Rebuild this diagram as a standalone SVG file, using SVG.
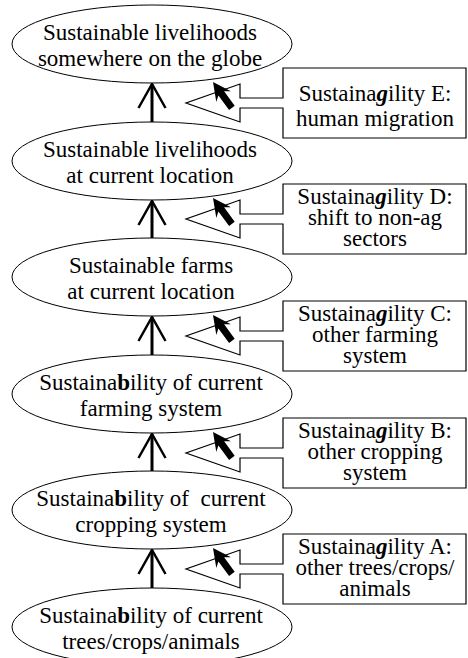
<svg xmlns="http://www.w3.org/2000/svg" width="468" height="658" viewBox="0 0 468 658">
<style>
text{font-family:'Liberation Serif','Times New Roman',serif;font-size:23px;fill:#000;text-anchor:middle}
.el{fill:#fff;stroke:#000;stroke-width:1}
.co{fill:#fff;stroke:#000;stroke-width:1.2}
.stem{stroke:#000;stroke-width:3;fill:none}
.vh{stroke:#000;stroke-width:2.5;fill:none;stroke-linecap:butt;stroke-linejoin:miter}
.cur{fill:#000;stroke:none}
.b{font-weight:bold}
.bi{font-weight:bold;font-style:italic}
</style>
<defs>
<path id="cursor" d="M0,0 L3.3,19.9 L5.4,13.4 L16.1,28 L21.7,23.8 L11.1,9.2 L17.9,9.3 Z"/>
<path id="vhead" d="M-13.5,24 L0,0 L13.5,24"/>
</defs>
<rect width="468" height="658" fill="#fff"/>

<g id="connectors">
<line class="stem" x1="152" y1="84" x2="152" y2="122"/>
<use href="#vhead" class="vh" x="152" y="84"/>
<line class="stem" x1="152" y1="201" x2="152" y2="238"/>
<use href="#vhead" class="vh" x="152" y="201"/>
<line class="stem" x1="152" y1="317" x2="152" y2="355"/>
<use href="#vhead" class="vh" x="152" y="317"/>
<line class="stem" x1="152" y1="434" x2="152" y2="471"/>
<use href="#vhead" class="vh" x="152" y="434"/>
<line class="stem" x1="152" y1="550" x2="152" y2="588"/>
<use href="#vhead" class="vh" x="152" y="550"/>
</g>

<g id="n1"><ellipse class="el" cx="152" cy="44" rx="140" ry="39"/>
<text x="150" y="40">Sustainable livelihoods</text><text x="150" y="66">somewhere on the globe</text></g>
<g id="n2"><ellipse class="el" cx="152" cy="161" rx="140" ry="39"/>
<text x="150" y="157">Sustainable livelihoods</text><text x="150" y="183">at current location</text></g>
<g id="n3"><ellipse class="el" cx="152" cy="277" rx="140" ry="39"/>
<text x="151" y="273">Sustainable farms</text><text x="151" y="299">at current location</text></g>
<g id="n4"><ellipse class="el" cx="152" cy="394" rx="140" ry="39"/>
<text x="151" y="390">Sustaina<tspan class="b">b</tspan>ility of current</text><text x="151" y="416">farming system</text></g>
<g id="n5"><ellipse class="el" cx="152" cy="510" rx="140" ry="39"/>
<text x="151" y="506">Sustaina<tspan class="b">b</tspan>ility of&#160; current</text><text x="151" y="532">cropping system</text></g>
<g id="n6"><ellipse class="el" cx="152" cy="627" rx="140" ry="39"/>
<text x="151" y="623">Sustaina<tspan class="b">b</tspan>ility of current</text><text x="151" y="649">trees/crops/animals</text></g>

<g id="cE">
<path class="co" d="M283,68 H466 V138 H283 V108 H240 V122 L186,103 L240,84 V98 H283 Z"/>
<use href="#cursor" class="cur" x="213" y="82"/>
<text x="375" y="101">Sustaina<tspan class="bi">g</tspan>ility E:</text>
<text x="375" y="126">human migration</text>
</g>
<g id="cD">
<path class="co" d="M283,184 H466 V254 H283 V224 H240 V238 L186,219 L240,200 V214 H283 Z"/>
<use href="#cursor" class="cur" x="213" y="198"/>
<text x="375" y="204">Sustaina<tspan class="bi">g</tspan>ility D:</text>
<text x="375" y="225">shift to non-ag</text>
<text x="375" y="246">sectors</text>
</g>
<g id="cC">
<path class="co" d="M283,301 H466 V371 H283 V341 H240 V355 L186,336 L240,317 V331 H283 Z"/>
<use href="#cursor" class="cur" x="213" y="315"/>
<text x="375" y="321">Sustaina<tspan class="bi">g</tspan>ility C:</text>
<text x="375" y="342">other farming</text>
<text x="375" y="363">system</text>
</g>
<g id="cB">
<path class="co" d="M283,418 H466 V488 H283 V458 H240 V472 L186,453 L240,434 V448 H283 Z"/>
<use href="#cursor" class="cur" x="213" y="432"/>
<text x="375" y="438">Sustaina<tspan class="bi">g</tspan>ility B:</text>
<text x="375" y="459">other cropping</text>
<text x="375" y="480">system</text>
</g>
<g id="cA">
<path class="co" d="M283,534 H466 V604 H283 V574 H240 V588 L186,569 L240,550 V564 H283 Z"/>
<use href="#cursor" class="cur" x="213" y="548"/>
<text x="375" y="554">Sustaina<tspan class="bi">g</tspan>ility A:</text>
<text x="375" y="575">other trees/crops/</text>
<text x="375" y="596">animals</text>
</g>
</svg>
